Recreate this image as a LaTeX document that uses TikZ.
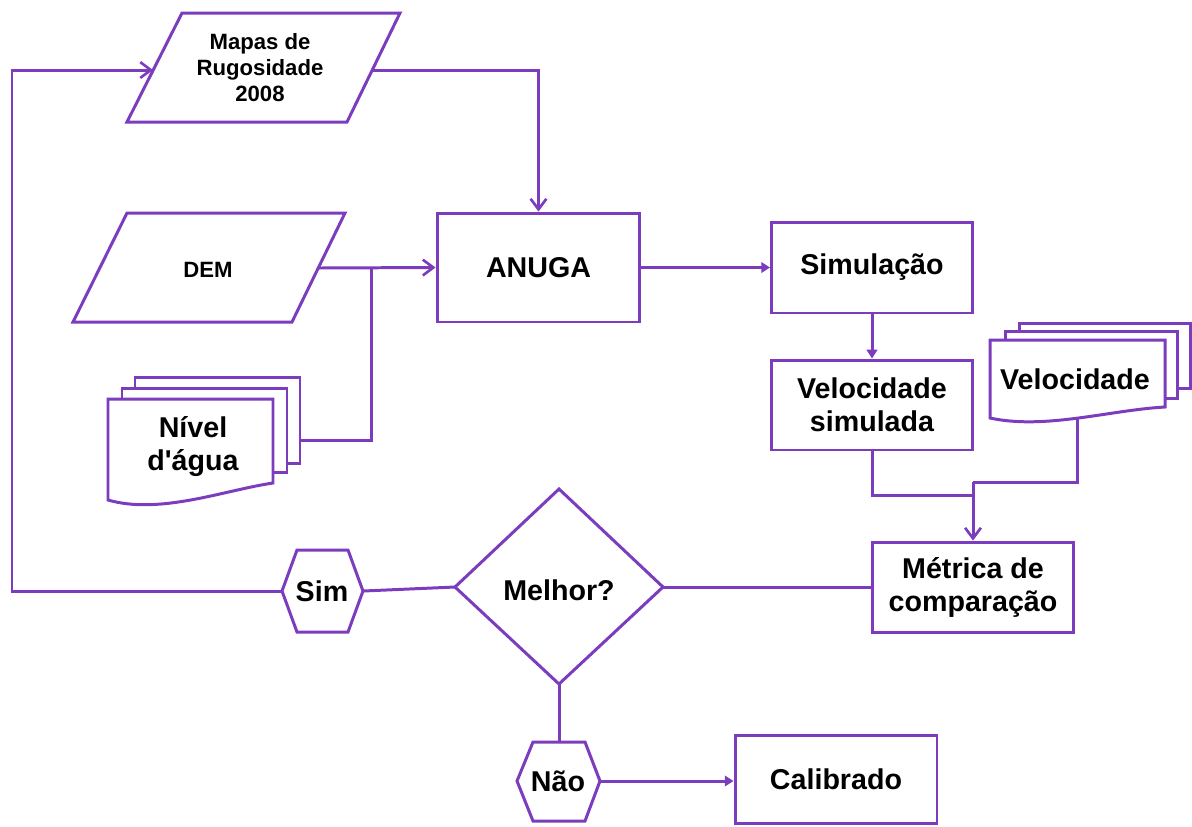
\documentclass[tikz,border=0pt]{standalone}
\usepackage{fontspec}
\setmainfont{Liberation Sans}
\usetikzlibrary{arrows.meta}
\definecolor{purp}{RGB}{124,60,190}
\begin{document}
\begin{tikzpicture}[x=0.02cm,y=-0.02cm,
  line/.style={draw=purp,line width=1.7pt,line join=miter},
  shp/.style={line,fill=white},
  box/.style={line,fill=white,rectangle,inner sep=0pt,align=center,font=\bfseries\fontsize{16.3}{18.8}\selectfont},
  lbl/.style={inner sep=0pt,align=center,font=\bfseries\fontsize{16.3}{18.8}\selectfont},
  smalllbl/.style={inner sep=0pt,align=center,font=\bfseries\fontsize{12.6}{14.8}\selectfont},
  conn/.style={line,-{Straight Barb[length=6pt,width=9pt,line width=1.5pt]}},
  sconn/.style={line,-{Triangle[length=5pt,width=6pt]}},
]
\useasboundingbox (0,0) rectangle (1192,826);

% ---------- named anchor coordinates ----------
\coordinate (mapasL) at (153,70);
\coordinate (mapasR) at (372,70);
\coordinate (demR) at (318,268);
\coordinate (jdem) at (371,268);
\coordinate (nivR) at (300,440);
\coordinate (velB) at (1077,418);
\coordinate (jvel) at (973,482);
\coordinate (jsim) at (973,495);
\coordinate (dmT) at (559,489);
\coordinate (dmR) at (663,587);
\coordinate (dmB) at (559,684);
\coordinate (dmL) at (455,587);
\coordinate (simL) at (282,591);
\coordinate (simR) at (363,591);
\coordinate (naoL) at (517,781);
\coordinate (naoR) at (600,781);
\coordinate (naoT) at (559,742);
\coordinate (corner) at (12,591);

% ---------- rectangle nodes ----------
\node[box,minimum width=4.06cm,minimum height=2.18cm] (anuga) at (538.5,267.5) {ANUGA};
\node[box,minimum width=4.02cm,minimum height=1.82cm] (sim) at (872,267.5) {Simulação};
\node[box,minimum width=4.02cm,minimum height=1.80cm] (velsim) at (872,405) {Velocidade\\simulada};
\node[box,minimum width=4.02cm,minimum height=1.80cm] (metrica) at (973,587) {Métrica de\\comparação};
\node[box,minimum width=4.04cm,minimum height=1.76cm] (calib) at (836,779) {Calibrado};

% ---------- connectors ----------
\draw[conn] (mapasR) -| (anuga.north);
\draw[conn] (demR) -- (anuga.west);
\draw[line] (nivR) -| (jdem);
\draw[sconn] (anuga.east) -- (sim.west);
\draw[sconn] (sim.south) -- (velsim.north);
\draw[line] (velsim.south) |- (jsim);
\draw[line] (velB) |- (jvel);
\draw[conn] (jvel) -- (metrica.north);
\draw[line] (dmR) -- (metrica.west);
\draw[line] (dmL) -- (simR);
\draw[conn] (simL) -- (corner) |- (mapasL);
\draw[line] (dmB) -- (naoT);
\draw[sconn] (naoR) -- (naoR -| calib.west);

% ---------- input parallelograms ----------
\draw[shp] (182,13) -- (400,13) -- (347,122) -- (127,122) -- cycle;
\node[smalllbl] (mapas) at (260,68) {Mapas de\\Rugosidade\\2008};
\draw[shp] (127,213) -- (345,213) -- (292,322) -- (73,322) -- cycle;
\node[smalllbl] (dem) at (208,270) {DEM};

% ---------- multi-document: Nivel d'agua ----------
\draw[shp] (135,377) rectangle (300,463);
\draw[shp] (122,388) rectangle (287,472);
\draw[shp] (108,399) -- (273,399) -- (273,483)
  .. controls (225,490) and (160,515) .. (108,500) -- cycle;
\node[lbl] (nivel) at (193,447) {Nível\\d\textquotesingle água};

% ---------- multi-document: Velocidade ----------
\draw[shp] (1019,323) rectangle (1190,388);
\draw[shp] (1005,331) rectangle (1177,398);
\draw[shp] (990,340) -- (1165,340) -- (1165,407)
  .. controls (1110,410) and (1045,430) .. (990,418) -- cycle;
\node[lbl] (vel) at (1075,379) {Velocidade};

% ---------- decision diamond ----------
\draw[shp] (dmT) -- (dmR) -- (dmB) -- (dmL) -- cycle;
\node[lbl] (melhor) at (559,590) {Melhor?};

% ---------- hexagons ----------
\draw[shp] (simL) -- (297,550) -- (348,550) -- (simR) -- (348,632) -- (297,632) -- cycle;
\node[lbl] (simlbl) at (322,591) {Sim};
\draw[shp] (naoL) -- (533,742) -- (585,742) -- (naoR) -- (585,821) -- (533,821) -- cycle;
\node[lbl] (nao) at (558,781) {Não};
\end{tikzpicture}
\end{document}
